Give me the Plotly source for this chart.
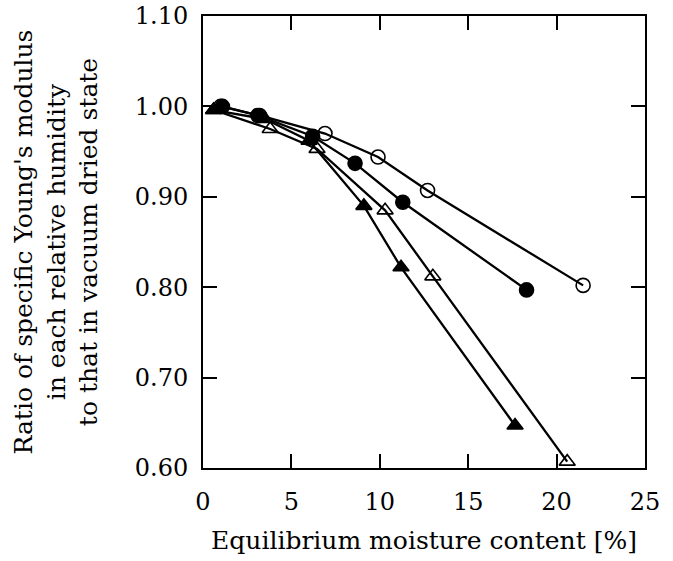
import plotly.graph_objects as go

# Open circles
x_oc = [1.0, 3.2, 6.9, 9.9, 12.7, 21.5]
y_oc = [1.000, 0.990, 0.970, 0.944, 0.907, 0.802]
# Filled circles
x_fc = [1.1, 3.1, 6.2, 8.6, 11.3, 18.3]
y_fc = [1.000, 0.990, 0.967, 0.937, 0.894, 0.797]
# Open triangles
x_ot = [0.6, 3.8, 6.45, 10.3, 13.0, 20.6]
y_ot = [0.996, 0.975, 0.953, 0.885, 0.812, 0.607]
# Filled triangles
x_ft = [0.6, 3.5, 6.0, 9.1, 11.2, 17.65]
y_ft = [0.996, 0.986, 0.962, 0.890, 0.822, 0.647]

x_ticks = [0, 5, 10, 15, 20, 25]
y_ticks = [0.60, 0.70, 0.80, 0.90, 1.00, 1.10]
y_tick_text = ["0.60", "0.70", "0.80", "0.90", "1.00", "1.10"]

FONT = "DejaVu Serif"
fig = go.Figure()

def add(x, y, symbol, size):
    fig.add_trace(go.Scatter(
        x=x, y=y, mode="lines+markers",
        line=dict(color="black", width=2.3),
        marker=dict(symbol=symbol, size=size, color="black",
                    line=dict(color="black", width=1.6)),
        cliponaxis=False, showlegend=False))

add(x_oc, y_oc, "circle-open", 14)
add(x_fc, y_fc, "circle", 14)
add(x_ot, y_ot, "triangle-up-open", 14)
add(x_ft, y_ft, "triangle-up", 14)

fig.update_layout(
    width=673, height=561,
    margin=dict(l=203, r=28, t=16, b=93),
    paper_bgcolor="white", plot_bgcolor="white",
    font=dict(family=FONT, color="black", size=24),
    xaxis=dict(
        range=[0, 25], tickvals=x_ticks, ticks="inside", ticklen=14,
        tickwidth=2, tickcolor="black", showline=True, linecolor="black",
        linewidth=2, mirror="ticks", showgrid=False, zeroline=False,
        automargin=False,
        tickfont=dict(family=FONT, size=24), ticklabelstandoff=11,
        title=dict(text="Equilibrium moisture content [%]",
                   font=dict(family=FONT, size=25), standoff=17),
    ),
    yaxis=dict(
        range=[0.60, 1.10], tickvals=y_ticks, ticktext=y_tick_text,
        ticks="inside", ticklen=14, tickwidth=2, tickcolor="black",
        showline=True, linecolor="black", linewidth=2, mirror="ticks",
        showgrid=False, zeroline=False, automargin=False,
        tickfont=dict(family=FONT, size=24), ticklabelstandoff=8,
        title=dict(text="Ratio of specific Young's modulus<br>in each relative humidity<br>to that in vacuum dried state",
                   font=dict(family=FONT, size=25), standoff=30),
    ),
)

fig.write_html("out.html")
